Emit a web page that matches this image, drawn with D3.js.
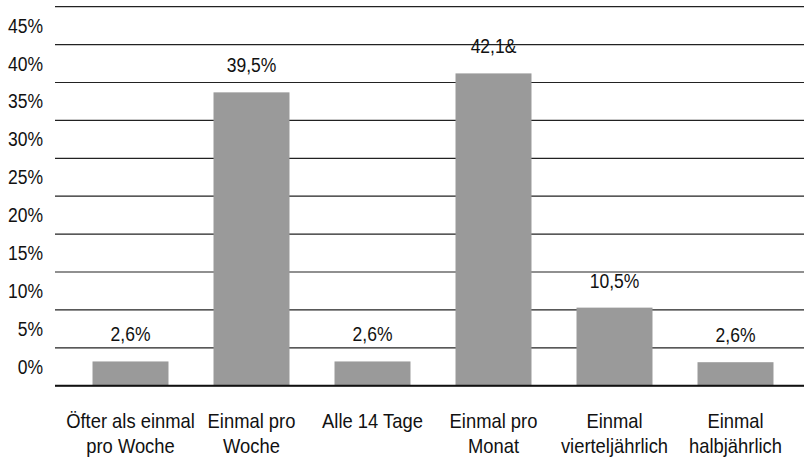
<!DOCTYPE html>
<html>
<head>
<meta charset="utf-8">
<script src="https://cdn.jsdelivr.net/npm/d3@7"></script>
<style>
  body { margin: 0; background: #fff; }
  svg text { font-family: "Liberation Sans", Arial, sans-serif; fill: #111; }
</style>
</head>
<body>
<div id="chart"></div>
<script>
// categories, two lines each
var categories = ["Öfter als einmal|pro Woche", "Einmal pro|Woche", "Alle 14 Tage", "Einmal pro|Monat", "Einmal|vierteljährlich", "Einmal|halbjährlich"]
// bar heights
var values = [3.2, 38.7, 3.2, 41.2, 10.3, 3.1]
// printed value labels (as they appear)
var valueLabels = ["2,6%", "39,5%", "2,6%", "42,1&", "10,5%", "2,6%"]
var tickValues = [0, 5, 10, 15, 20, 25, 30, 35, 40, 45]
var gridValues = [0, 5, 10, 15, 20, 25, 30, 35, 40, 45, 50]

var width = 804, height = 458
var squeeze = 0.875 // the original face is a condensed one

var svg = d3.select("#chart").append("svg")
    .attr("width", width)
    .attr("height", height)

var y = d3.scaleLinear().domain([0, 50]).range([385.7, 6.7])
var x = d3.scaleBand().domain(d3.range(categories.length)).range([70, 796])
    .paddingInner(0.372).paddingOuter(0.186)

function place(px, py){
	return "translate(" + px + "," + py + ") scale(" + squeeze + ",1)"
}

// gridlines
svg.selectAll(".grid")
  .data(gridValues)
  .enter()
  .append("line")
  .attr("class", "grid")
  .attr("x1", 55).attr("x2", width)
  .attr("y1", function(d){ return y(d) })
  .attr("y2", function(d){ return y(d) })
  .attr("stroke", "#222")
  .attr("stroke-width", 1.2)

// tick labels sit between the gridlines
svg.selectAll(".tick")
  .data(tickValues)
  .enter()
  .append("text")
  .attr("class", "tick")
  .text(function(d){ return d + "%" })
  .attr("transform", function(d){ return place(43, y(d + 2.5) + 7) })
  .attr("text-anchor", "end")
  .style("font-size", "20px")

// bars
svg.selectAll(".bar")
  .data(values)
  .enter()
  .append("rect")
  .attr("class", "bar")
  .attr("x", function(d, i){ return x(i) })
  .attr("width", x.bandwidth())
  .attr("y", function(d){ return y(d) })
  .attr("height", function(d){ return y(0) - y(d) })
  .attr("fill", "#9a9a9a")

// baseline on top
svg.append("line")
  .attr("x1", 55).attr("x2", width)
  .attr("y1", y(0)).attr("y2", y(0))
  .attr("stroke", "#111")
  .attr("stroke-width", 2)

// value labels
svg.selectAll(".vlabel")
  .data(values)
  .enter()
  .append("text")
  .attr("class", "vlabel")
  .text(function(d, i){ return valueLabels[i] })
  .attr("transform", function(d, i){ return place(x(i) + x.bandwidth() / 2, y(d) - 20) })
  .attr("text-anchor", "middle")
  .style("font-size", "20px")

// category labels
var cat = svg.selectAll(".cat")
  .data(categories)
  .enter()
  .append("text")
  .attr("class", "cat")
  .attr("text-anchor", "middle")
  .style("font-size", "21px")
  .attr("transform", function(d, i){ return place(x(i) + x.bandwidth() / 2, y(0) + 42) })

cat.selectAll("tspan")
  .data(function(d){ return d.split("|") })
  .enter()
  .append("tspan")
  .attr("x", 0)
  .attr("y", function(d, i){ return i * 25 })
  .text(function(d){ return d })
</script>
</body>
</html>
